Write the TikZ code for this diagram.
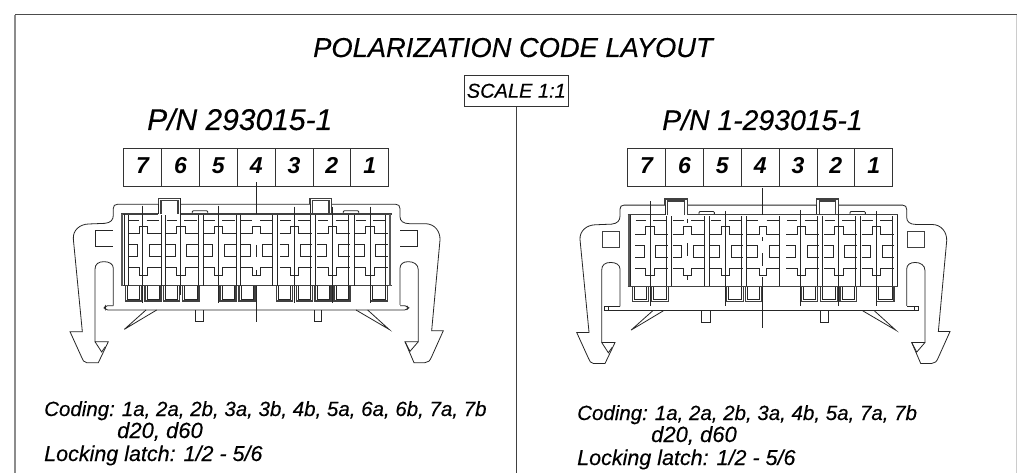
\documentclass[tikz,border=0pt]{standalone}
\usepackage{fontspec}
\setmainfont{Liberation Sans}[ItalicFeatures={FakeBold=0.3},BoldItalicFeatures={FakeBold=0}]
\newcommand{\itf}{\itshape}
\newcommand{\bitf}{\bfseries\itshape}
\tikzset{
 x=1pt,y=-1pt,
 zoomed/.style={x=0.33333pt,y=-0.33333pt},
 ln/.style={line width=0.8pt,black!85},
 thn/.style={line width=0.65pt,black!85},
 thk/.style={line width=1.4pt,black!75},
 vthk/.style={line width=2.1pt,black!65},
 numbox/.style={draw=black!80,line width=.7pt,minimum width=37.85pt,minimum height=37.7pt,inner sep=0,text height=16pt,text depth=4pt,font=\bitf\fontsize{23}{23}\selectfont},
 ttl/.style={inner sep=0,anchor=base west,font=\itf\fontsize{27.3}{27.3}\selectfont},
 cod/.style={inner sep=0,anchor=base west,font=\itf\fontsize{20.5}{20.5}\selectfont},
 codb/.style={cod,font=\itf\fontsize{21.5}{21.5}\selectfont},
 codc/.style={cod,font=\itf\fontsize{22}{22}\selectfont},
}
\newcommand{\numrow}[3]{% x of box 7 centre, y centre, suffix
 \foreach \n [count=\i from 0] in {7,6,5,4,3,2,1}{
  \node[numbox] (n\n#3) at ({#1+\i*37.85},#2) {\n};
 }}
% outline with latches, in zoom units
\newcommand{\outline}{%
 \draw[ln] (160,497) -- (160,385) .. controls (160,372) and (148,365) .. (132,365)
   .. controls (115,365) and (105,372) .. (105,388) -- (105,605) -- (145,605) -- (115,668) -- (80,668)
   .. controls (72,668) and (68,660) .. (65,652) -- (30,575) -- (67,575) -- (40,297)
   .. controls (38,270) and (60,253) .. (85,252) -- (135,250)
   .. controls (152,248) and (160,240) .. (160,225) -- (160,205) .. controls (160,197) and (164,193) .. (172,193)
   -- (295,193) (362,193) -- (750,193) (815,193) -- (1008,193) .. controls (1016,193) and (1020,198) .. (1020,206) -- (1020,230)
   .. controls (1020,243) and (1030,251) .. (1048,251) -- (1095,251)
   .. controls (1125,251) and (1141,275) .. (1140,300) -- (1115,572) -- (1150,572) -- (1115,650) .. controls (1110,662) and (1105,668) .. (1095,668)
   -- (1062,668) -- (1035,605) -- (1075,605) -- (1075,390) .. controls (1075,372) and (1060,365) .. (1045,365)
   .. controls (1030,365) and (1020,372) .. (1020,385) -- (1020,495);
 \draw[ln] (105,605) -- (125,636) -- (136,620);
 \draw[ln] (1035,605) -- (1050,634) -- (1075,605);
 % polarising tabs
 \foreach \a/\b in {295/362,750/815}{
  \draw[thk] (\a,193) -- (\a,175) -- (\b,175) -- (\b,222);
  \draw[thk] (\a+8,222) -- (\a+8,181) -- (\b-8,181) -- (\b-8,222);
 }
 \draw[ln] (295,193) -- (295,222);
 \draw[ln] (750,193) -- (750,222);
 % small latches
 \foreach \a in {397,850}{
  \draw[ln,rounded corners=1pt] (\a,222) -- (\a,212) -- (\a+46,212) -- (\a+46,222);
 }
 % wedges and stubs
 \draw[ln] (258,510) -- (193,568) -- (290,510);
 \draw[ln] (888,510) -- (987,568) -- (923,510);
 \draw[ln] (405,510) -- (405,545) -- (430,545) -- (430,510);
 \draw[ln] (762,510) -- (762,545) -- (785,545) -- (785,510);
}
\newcommand{\cavity}[1]{% centre of cavity
 \begin{scope}[xshift={(#1-250)*0.33333pt}]
 \draw[ln] (207,240) -- (238,240) (260,240) -- (298,240);
 \draw[ln] (205,280) -- (237,280) -- (237,258) -- (262,258) -- (262,280) -- (303,280);
 \draw[ln] (205,313) -- (232,313) -- (232,350) -- (205,350);
 \draw[ln] (303,313) -- (267,313) -- (267,350) -- (303,350);
 \draw[ln] (205,382) -- (237,382) -- (237,405) -- (262,405) -- (262,382) -- (303,382);
 \end{scope}}
\newcommand{\slotp}[2]{%
 \draw[thk] (#1,437) -- (#1,483) -- (#2,483) -- (#2,437);
 \draw[thn] (#1+6,438) -- (#1+6,477) -- (#2-6,477) -- (#2-6,438);}
\begin{document}
\begin{tikzpicture}
\useasboundingbox (0,0) rectangle (1017,473);
\fill[white] (0,0) rectangle (1017,473);
\draw[black!70,line width=1pt] (15,15) -- (1017,15);
\draw[black!45,line width=1.3pt] (15,15) -- (15,473);
\draw[black!20,line width=1pt] (1016.5,15) -- (1016.5,473);
\node[ttl] (title) at (313,57) {POLARIZATION CODE LAYOUT};
\node[draw=black!80,line width=.7pt,minimum width=104pt,minimum height=31.7pt,inner sep=0,font=\itf\fontsize{20}{20}\selectfont] (scale) at (516.3,90.8) {SCALE 1:1};
\coordinate (divend) at (516,473);
\draw[black!75,line width=.9pt] (scale.south -| divend) -- (divend);
\node[ttl,font=\itf\fontsize{30}{30}\selectfont] (pnl) at (147,130) {P/N 293015-1};
\node[ttl,font=\itf\fontsize{28.4}{28.4}\selectfont] (pnr) at (662,130) {P/N 1-293015-1};
\numrow{142.6}{167.2}{l}
\numrow{646.6}{167.2}{r}
% LEFT connector
\begin{scope}[shift={(60,140)},zoomed]
 \outline
 \draw[ln,rounded corners=2pt] (160,497) -- (137,497) -- (133,503) -- (137,510) -- (1040,510) -- (1046,504) -- (1040,497) -- (1020,497);
 \draw[ln] (105,272) -- (160,272) (105,272) -- (105,320) -- (160,320);
 \draw[ln] (1020,272) -- (1073,272) -- (1073,320) -- (1020,320);
 \draw[thk] (362,222) -- (995,222) (183,222) -- (295,222);
 \draw[thk] (183,437) -- (995,437);
 \draw[vthk] (186,222) -- (186,437);
 \draw[vthk] (990,222) -- (990,437);
 \draw[ln] (192,222) -- (192,437) (205,226) -- (205,437) (975,226) -- (975,437);
 \foreach \a/\b in {303/316,415/430,528/541,638/653,752/767,865/882}{
  \draw[ln] (\a,226) -- (\a,437) (\b,226) -- (\b,437);
 }
 \foreach \c in {250,363,476,704,817,930}{\cavity{\c}}
 \draw[ln] (541,240) -- (575,240) (600,240) -- (638,240);
 \draw[ln] (541,280) -- (577,280) -- (577,258) -- (600,258) -- (600,280) -- (638,280);
 \draw[ln] (541,313) -- (572,313) -- (572,350) -- (541,350);
 \draw[ln] (638,313) -- (607,313) -- (607,350) -- (638,350);
 \draw[ln] (541,382) -- (577,382) -- (577,405) -- (600,405) -- (600,382) -- (638,382);
 \foreach \a/\b in {197/245,255/303,310/358,367/417,480/528,537/585,650/698,710/757,765/813,822/870,932/982}{\slotp{\a}{\b}}
 \draw[thn] (248,197) -- (248,490) (362,175) -- (362,466) (475,197) -- (475,490)
   (702,200) -- (702,488) (816,200) -- (816,490) (930,200) -- (930,488);
 \draw[thn] (589,127) -- (589,222) (589,315) -- (589,350) (589,390) -- (589,405) (589,437) -- (589,545);
\end{scope}
% RIGHT connector
\begin{scope}[shift={(566.7,140.8)},zoomed]
 \outline
 \draw[ln] (160,497) -- (113,497) -- (113,510) -- (1055,510) -- (1055,497) -- (1020,497);
 \draw[ln] (125,497) -- (125,510) (1043,497) -- (1043,510);
 \draw[thk] (107,272) rectangle (158,320);
 \draw[thk] (1022,272) rectangle (1073,320);
 \draw[thk] (362,222) -- (995,222) (183,222) -- (295,222);
 \draw[thk] (183,437) -- (995,437);
 \draw[vthk] (186,222) -- (186,437);
 \draw[thn] (192,222) -- (192,437) (978,226) -- (978,437) (993,222) -- (993,437);
 \foreach \a/\b in {300/313,412/427,525/540,752/768,865/880}{
  \draw[ln] (\a,226) -- (\a,437) (\b,226) -- (\b,437);
 }
 \draw[ln] (637,226) -- (637,437);
 \foreach \c in {250,363,476,704,817,930}{\cavity{\c}}
 \draw[ln] (541,240) -- (575,240) (600,240) -- (636,240);
 \draw[ln] (541,280) -- (577,280) -- (577,258) -- (600,258) -- (600,280) -- (636,280);
 \draw[ln] (541,313) -- (572,313) -- (572,350) -- (541,350);
 \draw[ln] (636,313) -- (607,313) -- (607,350) -- (636,350);
 \draw[ln] (541,382) -- (577,382) -- (577,405) -- (600,405) -- (600,382) -- (636,382);
 \foreach \a/\b in {197/245,255/305,480/530,537/585,705/752,762/812,820/870,930/982}{\slotp{\a}{\b}}
 \draw[thn] (250,182) -- (250,497) (476,210) -- (476,497)
   (702,207) -- (702,497) (816,207) -- (816,497) (930,210) -- (930,497);
 \draw[thn] (362,234) -- (362,247) (362,307) -- (362,347) (362,402) -- (362,417);
 \draw[thn] (588,142) -- (588,222) (588,290) -- (588,300) (588,337) -- (588,377) (588,409) -- (588,562);
\end{scope}
% Coding notes
\node[cod] (c1) at (44,416) {Coding:\hspace{7pt}1a, 2a, 2b, 3a, 3b, 4b, 5a, 6a, 6b, 7a, 7b};
\node[codc] (c2) at (117,438) {d20, d60};
\node[codb] (c3) at (44,461) {Locking latch: 1/2 - 5/6};
\node[cod] (d1) at (577,420) {Coding:\hspace{7pt}1a, 2a, 2b, 3a, 4b, 5a, 7a, 7b};
\node[codc] (d2) at (651,442) {d20, d60};
\node[codb] (d3) at (577,465) {Locking latch: 1/2 - 5/6};
\end{tikzpicture}
\end{document}
